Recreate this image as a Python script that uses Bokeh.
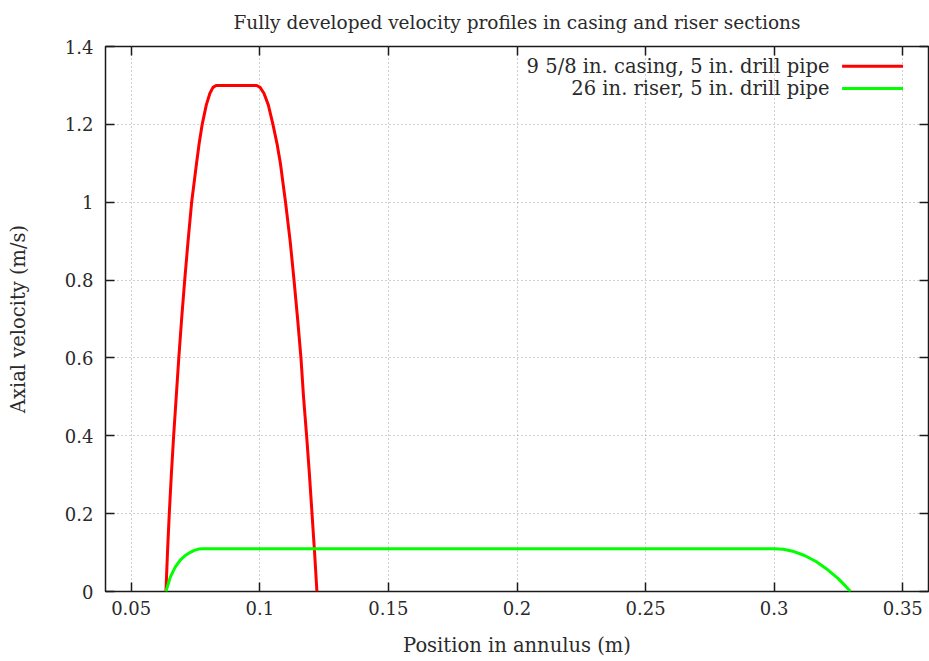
from bokeh.plotting import figure
from bokeh.models import LinearAxis, FixedTicker, Range1d, CustomJSTickFormatter
from bokeh.embed import file_html
from bokeh.resources import INLINE

# Velocity profile across the annulus gap: 9 5/8 in. casing with 5 in. drill pipe
casing_pos = [0.0635, 0.0641, 0.0648, 0.0656, 0.0665, 0.0675, 0.0685, 0.0696,
              0.0708, 0.0721, 0.0735, 0.0754, 0.0764, 0.0776, 0.0792, 0.0806,
              0.0818, 0.0830, 0.0988, 0.1001, 0.1016, 0.1033, 0.1051, 0.1067,
              0.1080, 0.1100, 0.1118, 0.1133, 0.1147, 0.1160, 0.1170, 0.1182,
              0.1193, 0.1203, 0.1213, 0.1222]
casing_vel = [0.0, 0.1, 0.2, 0.3, 0.4, 0.5, 0.6, 0.7,
              0.8, 0.9, 1.0, 1.1, 1.15, 1.2, 1.25, 1.28,
              1.295, 1.3, 1.3, 1.295, 1.28, 1.25, 1.2, 1.15,
              1.1, 1.0, 0.9, 0.8, 0.7, 0.6, 0.5, 0.4,
              0.3, 0.2, 0.1, 0.0]

# Velocity profile: 26 in. riser with 5 in. drill pipe
riser_pos = [0.0635, 0.0652, 0.0671, 0.0690, 0.0710, 0.0728, 0.0745, 0.0762,
             0.0778, 0.3000, 0.3035, 0.3072, 0.3118, 0.3163, 0.3204, 0.3249,
             0.3276, 0.3297]
riser_vel = [0.0, 0.037, 0.0625, 0.080, 0.0925, 0.100, 0.1055, 0.109,
             0.11, 0.11, 0.1085, 0.1035, 0.0925, 0.077, 0.058, 0.033,
             0.015, 0.0]

series_names = ["9 5/8 in. casing, 5 in. drill pipe", "26 in. riser, 5 in. drill pipe"]

x_ticks = [0.05, 0.1, 0.15, 0.2, 0.25, 0.3, 0.35]
x_tick_labels = ["0.05", "0.1", "0.15", "0.2", "0.25", "0.3", "0.35"]
y_ticks = [0.0, 0.2, 0.4, 0.6, 0.8, 1.0, 1.2, 1.4]
y_tick_labels = ["0", "0.2", "0.4", "0.6", "0.8", "1", "1.2", "1.4"]

FONT = "DejaVu Serif"
TICK_SIZE = "18px"
LABEL_SIZE = "19.5px"
TITLE_SIZE = "18.5px"
KEY_SIZE = "19.5px"
TEXT = "#2a2a2a"
RED = "#ff0000"
GREEN = "#00ff00"

p = figure(width=929, height=661, output_backend="svg", toolbar_location=None,
           x_range=Range1d(0.04, 0.36), y_range=Range1d(0.0, 1.4),
           min_border_left=105, min_border_right=1, min_border_top=46,
           min_border_bottom=70, x_axis_label="Position in annulus (m)",
           y_axis_label="Axial velocity (m/s)")
p.background_fill_color = "white"
p.border_fill_color = "white"
p.outline_line_color = "#1a1a1a"
p.outline_line_width = 1.5

p.title.text = "Fully developed velocity profiles in casing and riser sections"
p.title.align = "center"
p.title.vertical_align = "top"
p.title.text_font = FONT
p.title.text_font_style = "normal"
p.title.text_font_size = TITLE_SIZE
p.title.text_line_height = 1.0
p.title.text_color = TEXT
p.title.standoff = 23

xt = FixedTicker(ticks=x_ticks)
yt = FixedTicker(ticks=y_ticks)
blank = CustomJSTickFormatter(code="return ''")


def style_axis(ax, tick_size=TICK_SIZE):
    ax.axis_line_color = None
    ax.major_tick_in = 9
    ax.major_tick_out = 0
    ax.major_tick_line_color = "#1a1a1a"
    ax.major_tick_line_width = 1.5
    ax.minor_tick_line_color = None
    ax.major_label_text_font = FONT
    ax.major_label_text_color = TEXT
    ax.major_label_text_font_size = tick_size
    ax.axis_label_text_font = FONT
    ax.axis_label_text_font_style = "normal"
    ax.axis_label_text_font_size = LABEL_SIZE
    ax.axis_label_text_color = TEXT


xa = p.xaxis[0]
xa.ticker = xt
xa.major_label_overrides = dict(zip(x_ticks, x_tick_labels))
style_axis(xa)
xa.major_label_standoff = 9
xa.axis_label_standoff = 16

ya = p.yaxis[0]
ya.ticker = yt
ya.major_label_overrides = dict(zip(y_ticks, y_tick_labels))
style_axis(ya)
ya.major_label_standoff = 12
ya.axis_label_standoff = 32

# Mirrored tick marks on the top and right edges of the frame
top_ax = LinearAxis(ticker=xt, formatter=blank, major_label_standoff=0)
style_axis(top_ax, "1px")
p.add_layout(top_ax, "above")
right_ax = LinearAxis(ticker=yt, formatter=blank, major_label_standoff=0)
style_axis(right_ax, "1px")
p.add_layout(right_ax, "right")

for g in (p.xgrid[0], p.ygrid[0]):
    g.grid_line_color = "#a0a0a0"
    g.grid_line_width = 1
    g.grid_line_dash = "1 3"
p.xgrid[0].ticker = xt
p.ygrid[0].ticker = yt

p.line(casing_pos, casing_vel, line_color=RED, line_width=3, line_join="round")
p.line(riser_pos, riser_vel, line_color=GREEN, line_width=3, line_join="round")

# Key in the upper right: label text followed by a line sample
key_y = [1.349, 1.292]
key_colors = [RED, GREEN]
p.text(x=[0.3215, 0.3215], y=key_y, text=series_names, text_align="right",
       text_baseline="middle", text_font_size=KEY_SIZE, text_color=TEXT,
       text_font={"value": FONT})
p.segment(x0=[0.3264, 0.3264], y0=key_y, x1=[0.3501, 0.3501], y1=key_y,
          line_color=key_colors, line_width=3)

open("out.html", "w").write(file_html(p, INLINE))
